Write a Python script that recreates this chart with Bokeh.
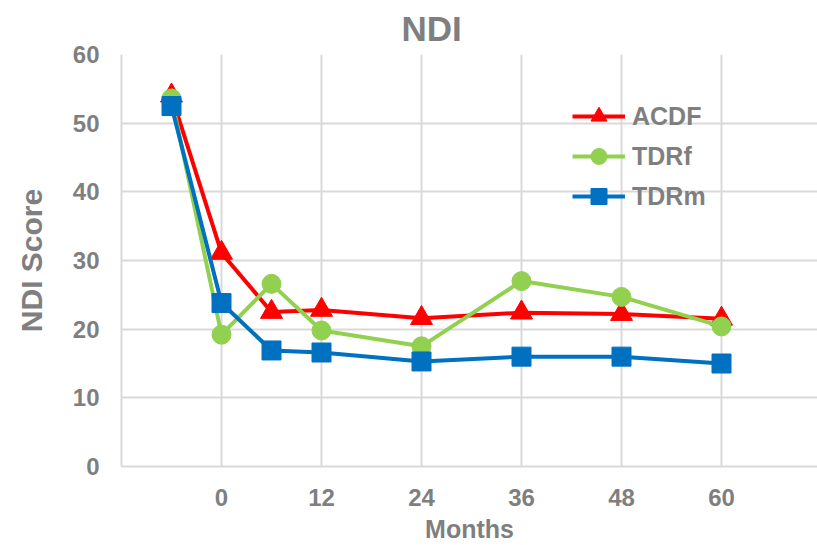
from bokeh.plotting import figure
from bokeh.models import Range1d, FixedTicker, Legend, LegendItem, Title
from bokeh.embed import file_html
from bokeh.resources import INLINE

# NDI score by follow-up time (months; -6 = pre-operative)
months = [-6, 0, 6, 12, 24, 36, 48, 60]
acdf = [54.0, 31.1, 22.5, 22.8, 21.6, 22.4, 22.2, 21.5]
tdrf = [53.6, 19.2, 26.6, 19.8, 17.5, 27.0, 24.7, 20.4]
tdrm = [52.5, 23.8, 16.9, 16.6, 15.3, 16.0, 16.0, 15.0]

x_ticks = [-12, 0, 12, 24, 36, 48, 60, 72]
y_ticks = [0, 10, 20, 30, 40, 50, 60]

FONT = "Liberation Sans"
TEXT = "#7f7f7f"
GRID = "#d9d9d9"

p = figure(width=817, height=545, output_backend="svg", toolbar_location=None,
           x_range=Range1d(-12, 71.52), y_range=Range1d(0, 60),
           min_border_left=121, min_border_right=0, min_border_top=53,
           min_border_bottom=79)
p.outline_line_color = None
p.background_fill_color = "white"
p.border_fill_color = "white"

p.title = Title(text="NDI", align="left", offset=280, standoff=13,
                text_font=FONT, text_font_size="35px", text_font_style="bold",
                text_color=TEXT)

for ax in (p.xaxis[0], p.yaxis[0]):
    ax.axis_line_color = GRID
    ax.axis_line_width = 2
    ax.major_tick_line_color = None
    ax.minor_tick_line_color = None
    ax.major_label_text_font = FONT
    ax.major_label_text_font_style = "bold"
    ax.major_label_text_color = TEXT
    ax.axis_label_text_font = FONT
    ax.axis_label_text_font_style = "bold"
    ax.axis_label_text_color = TEXT

p.xaxis.ticker = FixedTicker(ticks=x_ticks)
p.xaxis.major_label_overrides = {-12: "", 72: ""}
p.xaxis.major_label_text_font_size = "24px"
p.xaxis.major_label_standoff = 16
p.xaxis.axis_label = "Months"
p.xaxis.axis_label_text_font_size = "25px"
p.xaxis.axis_label_standoff = 6

p.yaxis.ticker = FixedTicker(ticks=y_ticks)
p.yaxis.major_label_text_font_size = "24px"
p.yaxis.major_label_standoff = 16
p.yaxis.axis_label = "NDI Score"
p.yaxis.axis_label_text_font_size = "30px"
p.yaxis.axis_label_standoff = 22

p.xgrid.ticker = FixedTicker(ticks=x_ticks)
p.ygrid.ticker = FixedTicker(ticks=y_ticks)
for g in (p.xgrid[0], p.ygrid[0]):
    g.grid_line_color = GRID
    g.grid_line_width = 2

series = [
    ("ACDF", acdf, "#ff0000", "triangle", 22),
    ("TDRf", tdrf, "#92d050", "circle", 19),
    ("TDRm", tdrm, "#0070c0", "square", 19),
]

items = []
for name, vals, color, marker, size in series:
    ln = p.line(months, vals, line_color=color, line_width=4)
    sc = p.scatter(months, vals, marker=marker, size=size,
                   fill_color=color, line_color=color)
    items.append(LegendItem(label=name, renderers=[ln, sc]))

legend = Legend(items=items, location=(451, 250), padding=0, margin=0,
                spacing=0, glyph_width=53, glyph_height=40, label_height=40,
                label_standoff=7, border_line_color=None,
                background_fill_alpha=0,
                label_text_font=FONT, label_text_font_size="25px",
                label_text_font_style="bold", label_text_color=TEXT)
p.add_layout(legend)

open("out.html", "w").write(file_html(p, INLINE))
